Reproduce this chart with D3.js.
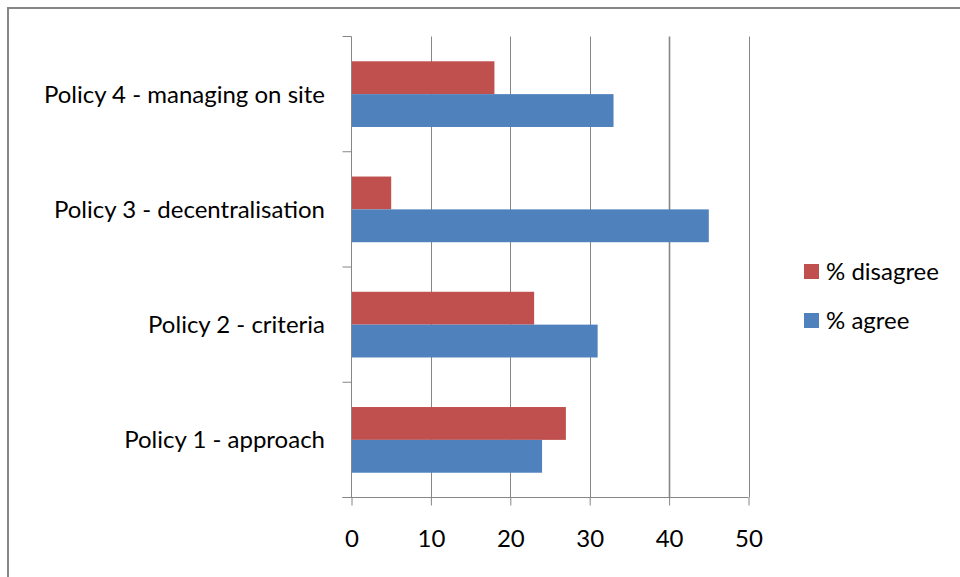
<!DOCTYPE html>
<html>
<head>
<meta charset="utf-8">
<script src="https://cdn.jsdelivr.net/npm/d3@7"></script>
<style>
  html, body { margin: 0; padding: 0; background: #fff; }
  svg { display: block; }
  text { font-family: Lato, "Open Sans", sans-serif; fill: #000; }
</style>
</head>
<body>
<svg id="chart" width="960" height="577"></svg>
<script>
const categories = ["Policy 1 - approach", "Policy 2 - criteria", "Policy 3 - decentralisation", "Policy 4 - managing on site"];
const disagree = [27, 23, 5, 18];
const agree = [24, 31, 45, 33];
const seriesNames = ["% disagree", "% agree"];
const xTicks = [0, 10, 20, 30, 40, 50];

const colors = { "% disagree": "#C0504D", "% agree": "#4F81BD" };
const svg = d3.select("#chart");
const FS = 24;

// outer frame
svg.append("rect").attr("x", 8).attr("y", 8).attr("width", 1000).attr("height", 1000)
  .attr("fill", "none").attr("stroke", "#868686").attr("stroke-width", 2);

const pLeft = 351.5, pRight = 748.5, pTop = 36.5, pBottom = 497.5;
const x = d3.scaleLinear().domain([0, 50]).range([pLeft, pRight]);
const y = d3.scaleBand().domain(categories.slice().reverse()).range([pTop, pBottom])
  .paddingInner(0.43).paddingOuter(0.215);
const sub = d3.scaleBand().domain(seriesNames).range([0, y.bandwidth()]);

// gridlines
svg.append("g").selectAll("line").data(xTicks.filter(d => d > 0)).join("line")
  .attr("x1", d => Math.round(x(d)) + 0.5).attr("x2", d => Math.round(x(d)) + 0.5)
  .attr("y1", pTop).attr("y2", pBottom)
  .attr("stroke", "#868686").attr("stroke-width", d => d === 40 ? 1.6 : 1);

// bars
const data = [];
categories.forEach((c, i) => {
  data.push({ cat: c, s: "% disagree", v: disagree[i] });
  data.push({ cat: c, s: "% agree", v: agree[i] });
});
svg.append("g").selectAll("rect").data(data).join("rect")
  .attr("x", x(0) + 0.5)
  .attr("y", d => y(d.cat) + sub(d.s))
  .attr("width", d => x(d.v) - x(0) - 0.5)
  .attr("height", sub.bandwidth())
  .attr("fill", d => colors[d.s]);

// x axis
const xAxis = d3.axisBottom(x).tickValues(xTicks).tickSize(8).tickPadding(24);
const gx = svg.append("g").attr("transform", `translate(0,${pBottom})`).call(xAxis);
gx.select(".domain").attr("stroke", "#868686").attr("d", `M${pLeft - 9},0H${pRight}`);
gx.selectAll(".tick line").attr("stroke", "#868686");
gx.selectAll(".tick text").attr("font-size", FS).attr("font-family", "Lato, sans-serif").attr("fill", "#000");

// y axis with ticks at band boundaries
const yBounds = d3.range(categories.length + 1).map(i => pTop + i * (pBottom - pTop) / categories.length);
svg.append("line").attr("x1", pLeft).attr("x2", pLeft).attr("y1", pTop).attr("y2", pBottom)
  .attr("stroke", "#868686");
svg.append("g").selectAll("line").data(yBounds).join("line")
  .attr("x1", pLeft - 9).attr("x2", pLeft).attr("y1", d => d).attr("y2", d => d)
  .attr("stroke", "#868686");
svg.append("g").selectAll("text").data(categories).join("text")
  .attr("x", 325).attr("y", d => y(d) + y.bandwidth() / 2)
  .attr("dy", "0.35em").attr("text-anchor", "end").attr("font-size", FS)
  .text(d => d);

// legend
const lg = svg.append("g");
seriesNames.forEach((s, i) => {
  const ly = 264 + i * 49;
  lg.append("rect").attr("x", 804).attr("y", ly).attr("width", 15).attr("height", 15).attr("fill", colors[s]);
  lg.append("text").attr("x", 826).attr("y", ly + 7.5).attr("dy", "0.35em").attr("font-size", FS).text(s);
});
</script>
</body>
</html>
